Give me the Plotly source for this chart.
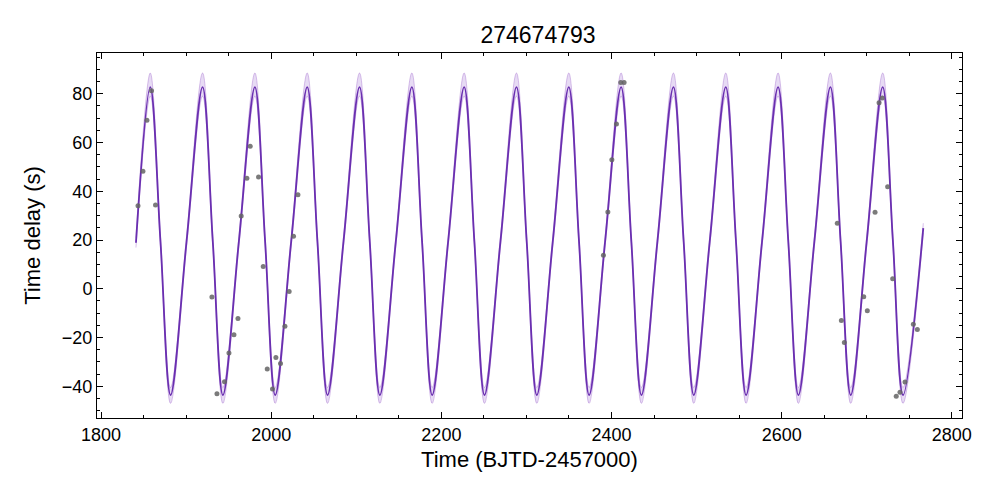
import plotly.graph_objects as go

# model curve key points
peak_t = [1857.8, 1919.3, 1980.8, 2042.3, 2103.8, 2165.3, 2226.8, 2288.3, 2349.8, 2411.3, 2472.8, 2534.3, 2595.8, 2657.3, 2718.8]
trough_t = [1881.7, 1943.2, 2004.7, 2066.2, 2127.7, 2189.2, 2250.7, 2312.2, 2373.7, 2435.2, 2496.7, 2558.2, 2619.7, 2681.2, 2742.7]
middown_t = [1869.8, 1931.3, 1992.8, 2054.3, 2115.8, 2177.3, 2238.8, 2300.3, 2361.8, 2423.3, 2484.8, 2546.3, 2607.8, 2669.3, 2730.8]
midup_t = [1900.5, 1962.0, 2023.5, 2085.0, 2146.5, 2208.0, 2269.5, 2331.0, 2392.5, 2454.0, 2515.5, 2577.0, 2638.5, 2700.0]
end_t = [1841.0, 2766.5]
end_y = [18.9, 24.9]
# levels: [median, upper, lower]
peak_y = [82.7, 88.5, 79.0]
trough_y = [-43.6, -40.5, -47.0]
mid_y = [19.5, 21.5, 17.5]

obs_t = [1843.4, 1849.2, 1853.9, 1859.3, 1864.0, 1930.3, 1936.2, 1945.1, 1950.3, 1956.2, 1960.9, 1964.7,
         1971.4, 1975.3, 1985.1, 1990.6, 1995.3, 2001.5, 2005.5, 2010.9, 2016.1, 2021.1, 2026.2, 2031.4,
         2390.5, 2395.7, 2400.4, 2405.8, 2410.9, 2414.8,
         2665.4, 2670.2, 2673.7, 2696.5, 2700.7, 2709.8, 2714.5, 2718.3, 2724.6, 2730.5, 2734.7, 2739.1,
         2745.0, 2754.8, 2759.5]
obs_y = [34.1, 48.2, 69.1, 81.2, 34.4, -3.4, -43.1, -38.1, -26.3, -18.9, -12.2, 29.8,
         45.3, 58.5, 45.8, 9.1, -32.9, -41.1, -28.2, -30.6, -15.4, -1.1, 21.5, 38.6,
         13.7, 31.5, 52.9, 67.6, 84.6, 84.6,
         26.9, -13.0, -22.0, -3.3, -9.0, 31.4, 76.3, 78.2, 41.8, 4.1, -44.1, -42.4,
         -38.2, -14.6, -16.7]


def curve(level):
    pts = [(t, peak_y[level]) for t in peak_t] + [(t, trough_y[level]) for t in trough_t]
    pts += [(t, mid_y[level]) for t in middown_t + midup_t]
    pts += [(end_t[i], end_y[i] + (mid_y[level] - mid_y[0])) for i in range(2)]
    pts.sort()
    return [p[0] for p in pts], [p[1] for p in pts]


xm, ym = curve(0)
xu, yu = curve(1)
xl, yl = curve(2)

fig = go.Figure()
fig.add_trace(go.Scatter(x=xu, y=yu, mode="lines", line=dict(color="rgba(150,90,200,0.45)", width=0.8, shape="spline"), showlegend=False))
fig.add_trace(go.Scatter(x=xl, y=yl, mode="lines", fill="tonexty", fillcolor="rgba(160,110,210,0.25)",
                         line=dict(color="rgba(150,90,200,0.45)", width=0.8, shape="spline"), showlegend=False))
fig.add_trace(go.Scatter(x=xm, y=ym, mode="lines", line=dict(color="#6a2fb0", width=1.8, shape="spline"), showlegend=False))
fig.add_trace(go.Scatter(x=obs_t, y=obs_y, mode="markers", marker=dict(color="rgba(100,100,100,0.85)", size=5), showlegend=False))

ax = dict(showline=True, linecolor="black", linewidth=1, mirror="allticks", ticks="inside", ticklen=6,
          tickcolor="black", showgrid=False, zeroline=False, automargin=False,
          minor=dict(ticks="inside", ticklen=3, tickcolor="black"))
fig.update_xaxes(**ax, range=[1795.2, 2812], dtick=200, minor_dtick=50, title_text="Time (BJTD-2457000)", title_standoff=8)
fig.update_yaxes(**ax, range=[-53, 96.7], dtick=20, minor_dtick=5, title_text="Time delay (s)")
fig.update_layout(width=1000, height=500, plot_bgcolor="white", paper_bgcolor="white",
                  margin=dict(l=89, r=46, t=45, b=90),
                  font=dict(family="Liberation Sans, Arial", size=18, color="black"),
                  title=dict(text="274674793", x=0.53, xanchor="center", y=0.946, yanchor="middle", font=dict(size=23)))
fig.write_html("out.html")
